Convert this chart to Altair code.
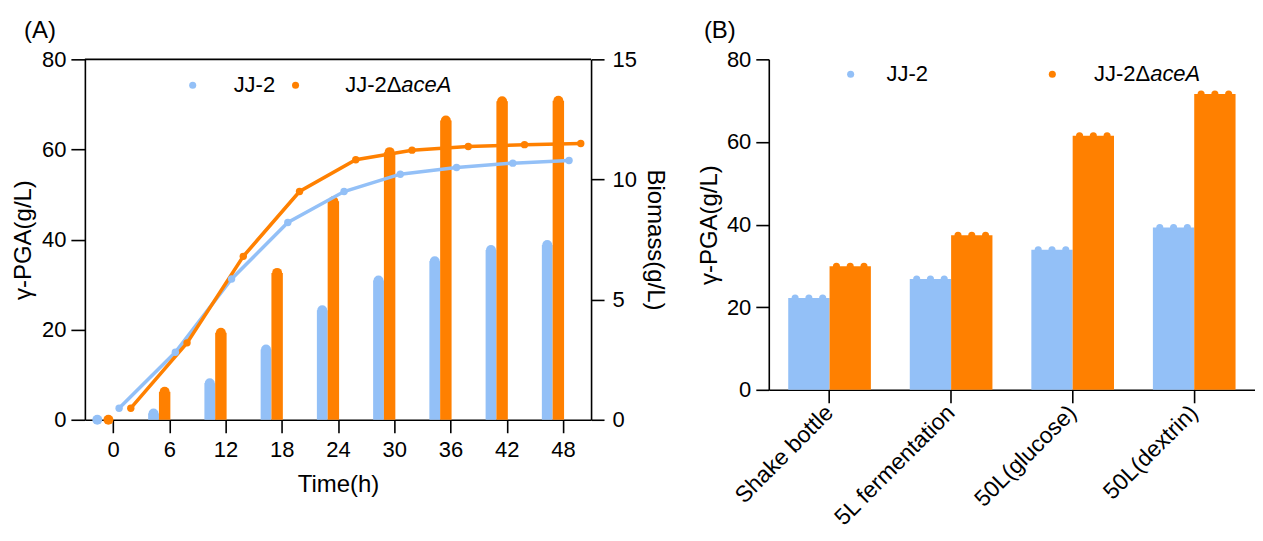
import altair as alt
import pandas as pd

# ---------------- data ----------------
TIME = [0, 6, 12, 18, 24, 30, 36, 42, 48]
STRAINS = ["JJ-2", "JJ-2ΔaceA"]
PGA_JJ2 = [0.0, 1.4, 8.1, 15.6, 24.3, 30.9, 35.2, 37.7, 38.8]
PGA_ACEA = [0.0, 6.2, 19.3, 32.6, 48.5, 59.4, 66.4, 70.7, 70.8]
BIO_JJ2 = [0.48, 2.81, 5.86, 8.21, 9.50, 10.22, 10.50, 10.68, 10.79]
BIO_ACEA = [0.48, 3.20, 6.80, 9.50, 10.82, 11.22, 11.37, 11.45, 11.50]

SCALES = ["Shake bottle", "5L fermentation", "50L(glucose)", "50L(dextrin)"]
B_JJ2 = [22.2, 26.8, 33.9, 39.3]
B_ACEA = [29.9, 37.4, 61.5, 71.6]
REPS = [1, 2, 3]

LEGEND_PLAIN = ["JJ-2", "JJ-2Δ"]
LEGEND_ITALIC = "aceA"
PANEL_TAGS = ["(A)", "(B)"]

BLUE = "#93C0F7"
ORANGE = "#FF8000"
FONT = "Liberation Sans"

color = alt.Color("strain:N", scale=alt.Scale(domain=STRAINS, range=[BLUE, ORANGE]), legend=None)

dfA = pd.DataFrame({
    "time": TIME * 2,
    "strain": [STRAINS[0]] * len(TIME) + [STRAINS[1]] * len(TIME),
    "pga": PGA_JJ2 + PGA_ACEA,
    "bio": BIO_JJ2 + BIO_ACEA,
})

xA = alt.Scale(domain=[-3, 51], nice=False, zero=False)
yL = alt.Scale(domain=[0, 80], nice=False)
yR = alt.Scale(domain=[0, 15], nice=False)

AX_X_A = alt.Axis(values=TIME, title="Time(h)", tickSize=13, labelPadding=7, titlePadding=12, grid=False)
AX_YL_A = alt.Axis(values=[0, 20, 40, 60, 80], title="γ-PGA(g/L)", tickSize=14, labelPadding=5,
                   titlePadding=6, grid=False)
AX_YR_A = alt.Axis(orient="right", values=[0, 5, 10, 15], title="Biomass(g/L)", tickSize=13,
                   labelPadding=8, titlePadding=6, grid=False)

base = alt.Chart(dfA).transform_calculate(
    x0="datum.strain == 'JJ-2' ? datum.time - 2.25 : datum.time - 1.1",
    x1="datum.strain == 'JJ-2' ? datum.time - 1.1 : datum.time + 0.12",
    xc="datum.strain == 'JJ-2' ? datum.time - 1.675 : datum.time - 0.49",
    xl="datum.strain == 'JJ-2' ? datum.time + 0.65 : datum.time + 1.9",
)

bars = base.mark_bar().encode(
    x=alt.X("x0:Q", scale=xA, axis=AX_X_A, title="Time(h)"),
    x2="x1:Q",
    y=alt.Y("pga:Q", scale=yL, axis=AX_YL_A, title="γ-PGA(g/L)"),
    y2=alt.datum(0),
    color=color,
)
barpts = base.mark_circle(size=100, opacity=1).encode(
    x=alt.X("xc:Q", scale=xA, axis=AX_X_A, title="Time(h)"),
    y=alt.Y("pga:Q", scale=yL, axis=AX_YL_A, title="γ-PGA(g/L)"),
    color=color,
)
line = base.mark_line(strokeWidth=3.5).encode(
    x=alt.X("xl:Q", scale=xA, axis=AX_X_A, title="Time(h)"),
    y=alt.Y("bio:Q", scale=yR, axis=AX_YR_A, title="Biomass(g/L)"),
    color=color,
)
linepts = base.mark_circle(size=55, opacity=1).encode(
    x=alt.X("xl:Q", scale=xA, axis=AX_X_A, title="Time(h)"),
    y=alt.Y("bio:Q", scale=yR, axis=AX_YR_A, title="Biomass(g/L)"),
    color=color,
)
# top frame line of panel A
frame_top = alt.Chart(pd.DataFrame({"t": [0]})).mark_rule(color="black", strokeWidth=1.6).encode(
    x=alt.value(0), x2=alt.value(507), y=alt.value(0))


def legend(dot1, txt1, dot2, split, y):
    one = pd.DataFrame({"t": [0]})
    d1 = alt.Chart(one).mark_circle(size=50, opacity=1, color=BLUE).encode(
        x=alt.value(dot1), y=alt.value(y))
    d2 = alt.Chart(one).mark_circle(size=50, opacity=1, color=ORANGE).encode(
        x=alt.value(dot2), y=alt.value(y))
    t1 = alt.Chart(pd.DataFrame({"t": [LEGEND_PLAIN[0]]})).mark_text(
        align="left", baseline="middle", fontSize=22, font=FONT, color="black").encode(
        x=alt.value(txt1), y=alt.value(y), text="t:N")
    t2 = alt.Chart(pd.DataFrame({"t": [LEGEND_PLAIN[1]]})).mark_text(
        align="right", baseline="middle", fontSize=22, font=FONT, color="black").encode(
        x=alt.value(split), y=alt.value(y), text="t:N")
    t3 = alt.Chart(pd.DataFrame({"t": [LEGEND_ITALIC]})).mark_text(
        align="left", baseline="middle", fontSize=22, font=FONT, fontStyle="italic", color="black").encode(
        x=alt.value(split), y=alt.value(y), text="t:N")
    return [d1, d2, t1, t2, t3]


def tag(label, x):
    return alt.Chart(pd.DataFrame({"t": [label]})).mark_text(
        align="left", baseline="alphabetic", fontSize=24, font=FONT, color="black").encode(
        x=alt.value(x), y=alt.value(-21), text="t:N")


panelA = alt.layer(
    alt.layer(bars, barpts),
    alt.layer(line, linepts),
    frame_top,
    *legend(108, 149, 211, 317, 26),
    tag(PANEL_TAGS[0], -61),
).resolve_scale(y="independent").properties(width=507, height=361)

# ---------------- panel B ----------------
dfB = pd.DataFrame({
    "scale": SCALES * 2,
    "strain": [STRAINS[0]] * 4 + [STRAINS[1]] * 4,
    "val": B_JJ2 + B_ACEA,
})
rows = []
for s, vals in zip(STRAINS, [B_JJ2, B_ACEA]):
    for c, v in zip(SCALES, vals):
        for r in REPS:
            rows.append({"scale": c, "strain": s, "sub": f"{s}_{r}", "val": v})
dfBp = pd.DataFrame(rows)
SUBS = [f"{s}_{r}" for s in STRAINS for r in REPS]

xB = alt.Scale(domain=SCALES, paddingInner=0.32, paddingOuter=0.16)
yB = alt.Scale(domain=[0, 80], nice=False)

AX_X_B = alt.Axis(title=None, labelAngle=315, labelAlign="right", labelBaseline="middle",
                  tickSize=13, labelPadding=6, labelFontSize=23)
AX_Y_B = alt.Axis(values=[0, 20, 40, 60, 80], title="γ-PGA(g/L)", tickSize=13, labelPadding=5,
                  titlePadding=5, grid=False)

barsB = alt.Chart(dfB).mark_bar().encode(
    x=alt.X("scale:N", scale=xB, sort=SCALES, axis=AX_X_B, title=None),
    xOffset=alt.XOffset("strain:N", scale=alt.Scale(domain=STRAINS)),
    y=alt.Y("val:Q", scale=yB, axis=AX_Y_B, title="γ-PGA(g/L)"),
    color=color,
)
ptsB = alt.Chart(dfBp).mark_circle(size=50, opacity=1).encode(
    x=alt.X("scale:N", scale=xB, sort=SCALES, axis=AX_X_B, title=None),
    xOffset=alt.XOffset("sub:N", scale=alt.Scale(domain=SUBS)),
    y=alt.Y("val:Q", scale=yB, axis=AX_Y_B, title="γ-PGA(g/L)"),
    color=color,
)

panelB = alt.layer(
    barsB, ptsB,
    *legend(82, 118, 284, 382, 15),
    tag(PANEL_TAGS[1], -65),
).resolve_scale(xOffset="independent").properties(width=487, height=331)

chart = alt.hconcat(panelA, panelB, spacing=30).properties(
    padding={"left": 3, "top": 11, "right": 0, "bottom": 0}
).configure_axis(
    labelFont=FONT, titleFont=FONT, labelFontSize=22, titleFontSize=24,
    labelColor="black", titleColor="black", titleFontWeight="normal",
    domainColor="black", tickColor="black", domainWidth=1.6, tickWidth=1.6,
).configure_view(strokeOpacity=0)

chart.save("out.html", embed_options={"renderer": "svg", "actions": False})
